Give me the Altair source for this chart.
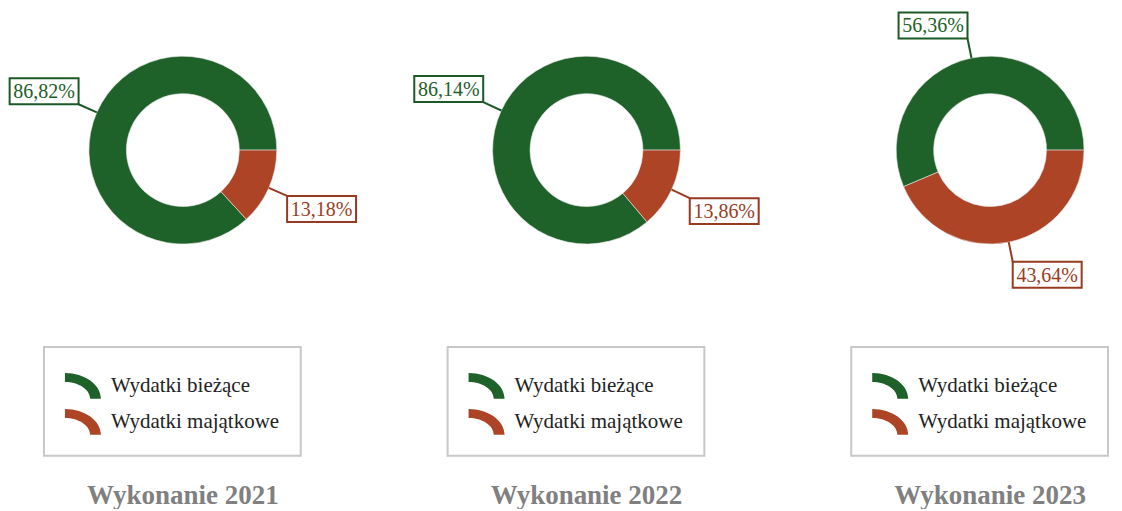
import math
import altair as alt
import pandas as pd

years = ["2021", "2022", "2023"]
categories = ["Wydatki bieżące", "Wydatki majątkowe"]
biezace = [86.82, 86.14, 56.36]
majatkowe = [13.18, 13.86, 43.64]
fill_colors = ["#1e6129", "#ad4426"]
line_colors = ["#1b5a26", "#973a20"]
text_colors = ["#1e5e29", "#9c3c22"]

rows = []
for i, yr in enumerate(years):
    for j, (cat, vals) in enumerate(zip(categories, [biezace, majatkowe])):
        rows.append({"year": yr, "cat": cat, "value": vals[i], "ord": 1 - j,
                     "lcol": line_colors[j], "tcol": text_colors[j]})
df = pd.DataFrame(rows)

CX, CY, R_OUT, R_IN, R_LAB = 174, 142, 94, 56.5, 114
BOX_W, BOX_H = 69, 26
PH = 464
PANEL_W = [404, 404, 298]
TITLE_DX = [-28, -28, 25]
ARC_PATH = "M -1,-0.72 A 2 1.44 0 0 1 1,0.72 L 0.4,0.72 A 1.4 0.94 0 0 0 -1,-0.22 Z"


def panel(k, year):
    PW = PANEL_W[k]
    base = alt.Chart(df).transform_filter(alt.datum.year == year)
    arcs = base.mark_arc(stroke="#e6e6e6", strokeWidth=0.6).encode(
        theta=alt.Theta("value:Q", stack=True,
                        scale=alt.Scale(range=[math.pi / 2, math.pi / 2 + 2 * math.pi])),
        color=alt.Color("cat:N", scale=alt.Scale(domain=categories, range=fill_colors),
                        legend=alt.Legend(title=None, orient="none", legendX=35, legendY=339,
                                          direction="vertical", symbolType=ARC_PATH,
                                          symbolSize=1296, symbolStrokeWidth=0,
                                          labelFont="Liberation Serif", labelFontSize=21,
                                          labelColor="#222222", labelOffset=10,
                                          labelLimit=400,
                                          padding=21, rowPadding=5,
                                          strokeColor="#c8c8c8")),
        order=alt.Order("ord:Q"),
        x=alt.value(CX), y=alt.value(CY),
        radius=alt.value(R_OUT), radius2=alt.value(R_IN),
    )
    geo = (
        base.transform_joinaggregate(total="sum(value)")
        .transform_window(cum="sum(value)", sort=[alt.SortField("ord")], frame=[None, 0])
        .transform_calculate(a="PI/2 + 2*PI*(datum.cum - datum.value/2)/datum.total")
        .transform_calculate(sx="sin(datum.a)")
        .transform_calculate(sy="-cos(datum.a)")
        .transform_calculate(x0=f"{CX} + {R_OUT}*datum.sx")
        .transform_calculate(y0=f"{CY} + {R_OUT}*datum.sy")
        .transform_calculate(x1=f"{CX} + {R_LAB}*datum.sx")
        .transform_calculate(y1=f"{CY} + {R_LAB}*datum.sy")
        .transform_calculate(bx1=f"datum.sx < 0 ? datum.x1 - {BOX_W} : datum.x1")
        .transform_calculate(bx2=f"datum.bx1 + {BOX_W}")
        .transform_calculate(by1=f"datum.sy < 0 ? datum.y1 - {BOX_H} : datum.y1")
        .transform_calculate(by2=f"datum.by1 + {BOX_H}")
        .transform_calculate(tx="(datum.bx1 + datum.bx2)/2")
        .transform_calculate(ty="(datum.by1 + datum.by2)/2 + 1")
        .transform_calculate(label="replace(format(datum.value, '.2f'), '.', ',') + '%'")
    )
    xs = alt.Scale(domain=[0, PW], nice=False, zero=False)
    ys = alt.Scale(domain=[0, PH], nice=False, zero=False, reverse=True)
    rules = geo.mark_rule(strokeWidth=2).encode(
        x=alt.X("x0:Q", scale=xs, axis=None), y=alt.Y("y0:Q", scale=ys, axis=None),
        x2="x1:Q", y2="y1:Q",
        color=alt.Color("lcol:N", scale=None),
    )
    boxes = geo.mark_rect(fill="white", strokeWidth=2).encode(
        x=alt.X("bx1:Q", scale=xs, axis=None), y=alt.Y("by1:Q", scale=ys, axis=None),
        x2="bx2:Q", y2="by2:Q",
        stroke=alt.Stroke("lcol:N", scale=None),
    )
    texts = geo.mark_text(font="Liberation Serif", fontSize=20).encode(
        x=alt.X("tx:Q", scale=xs, axis=None), y=alt.Y("ty:Q", scale=ys, axis=None),
        text="label:N",
        color=alt.Color("tcol:N", scale=None),
    )
    return alt.layer(arcs, rules, boxes, texts).properties(
        width=PW, height=PH,
        title=alt.TitleParams(text=f"Wykonanie {year}", orient="bottom", anchor="middle",
                              dx=TITLE_DX[k], dy=7, offset=4, baseline="top",
                              font="Liberation Serif", fontSize=27, fontWeight="bold",
                              color="#808080"),
    )


chart = (
    alt.hconcat(*[panel(k, y) for k, y in enumerate(years)], spacing=0)
    .resolve_scale(color="independent", theta="independent")
    .resolve_legend(color="independent")
    .properties(padding=0)
    .configure_view(stroke=None)
    .configure_legend(strokeWidth=2)
)

chart.save("out.html", embed_options={"renderer": "svg", "actions": False})
